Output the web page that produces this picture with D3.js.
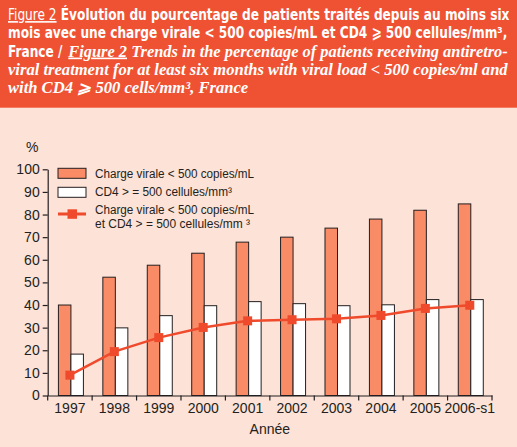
<!DOCTYPE html>
<html><head><meta charset="utf-8">
<script src="https://cdn.jsdelivr.net/npm/d3@7"></script>
<style>
html,body{margin:0;padding:0;background:#FDE2D7;}
svg{display:block;}
</style></head>
<body>
<svg id="chart" width="517" height="447"></svg>
<script>
// ---- data ----
const years = ["1997","1998","1999","2000","2001","2002","2003","2004","2005","2006-s1"];
const chargeVirale = [40, 52.3, 57.6, 62.9, 67.8, 70, 74, 78, 81.9, 84.7];
const cd4 = [18.3, 29.9, 35.3, 39.7, 41.5, 40.6, 39.7, 40.1, 42.4, 42.4];
const both = [9, 19.4, 25.6, 30.1, 33, 33.5, 33.9, 35.4, 38.5, 39.9];
const yTicks = [0,10,20,30,40,50,60,70,80,90,100];
const legendLabels = ["Charge virale < 500 copies/mL", "CD4 > = 500 cellules/mm³", "Charge virale < 500 copies/mL", "et CD4 > = 500 cellules/mm ³"];

const W = 517, H = 447;
const C = {header:"#EF5233", bg:"#FDE2D7", orange:"#F98B66", line:"#EF4A2C", stroke:"#231F20"};
const svg = d3.select("#chart");
svg.append("rect").attr("width",W).attr("height",H).attr("fill",C.bg);

// ---- header ----
svg.append("rect").attr("width",W).attr("height",107.7).attr("fill",C.header);
const SANS = "'DejaVu Sans', sans-serif";
const SERIF = "'Liberation Serif', 'DejaVu Serif', serif";
// each segment: start x, target end x (or reuse scale of a previous segment)
const segs = [
  {y:20, x0:8, x1:510, parts:[{t:"Figure 2", f:SANS, wgt:"normal", u:true},{t:" Évolution du pourcentage de patients traités depuis au moins six", f:SANS, wgt:"bold"}]},
  {y:38.3, x0:8, x1:508, id:"l2", parts:[{t:"mois avec une charge virale < 500 copies/mL et CD4 ⩾ 500 cellules/mm³,", f:SANS, wgt:"bold"}]},
  {y:56.6, x0:8, same:"l2", parts:[{t:"France /", f:SANS, wgt:"bold"}]},
  {y:56.6, x0:68.3, x1:508, parts:[{t:"Figure 2", f:SERIF, wgt:"bold", it:true, u:true},{t:" Trends in the percentage of patients receiving antiretro-", f:SERIF, wgt:"bold", it:true}]},
  {y:74.9, x0:8, x1:508, id:"l4", parts:[{t:"viral treatment for at least six months with viral load < 500 copies/ml and", f:SERIF, wgt:"bold", it:true}]},
  {y:93.2, x0:8, same:"l4", parts:[{t:"with CD4 ⩾ 500 cells/mm³, France", f:SERIF, wgt:"bold", it:true}]}
];
const scales = {};
segs.forEach(L => {
  const g = svg.append("g");
  const t = g.append("text").attr("x",0).attr("y",L.y).attr("fill","#fff").attr("font-size",16).style("white-space","pre");
  L.parts.forEach(p => {
    t.append("tspan").text(p.t)
      .attr("font-family",p.f).attr("font-weight",p.wgt)
      .attr("font-style",p.it?"italic":"normal")
      .attr("font-stretch", p.f===SANS ? "condensed":"normal")
      .attr("text-decoration",p.u?"underline":null);
  });
  const nat = t.node().getComputedTextLength();
  const s = L.same ? scales[L.same] : (L.x1 - L.x0)/nat;
  if (L.id) scales[L.id] = s;
  g.attr("transform",`translate(${L.x0},0) scale(${s},1)`);
});

// ---- scales ----
const x = d3.scaleBand().domain(years).range([47.7, 492]).padding(0);
const y = d3.scaleLinear().domain([0,100]).range([395.5, 169.3]);
const barW = 12.5;

// ---- bars ----
const plot = svg.append("g");
plot.selectAll("rect.cv").data(years).join("rect").attr("class","cv")
  .attr("x", (d)=> x(d) + x.bandwidth()/2 + 1 - barW)
  .attr("y", (d,i)=> y(chargeVirale[i]))
  .attr("width", barW).attr("height",(d,i)=> y(0)-y(chargeVirale[i]))
  .attr("fill",C.orange).attr("stroke",C.stroke).attr("stroke-width",1);
plot.selectAll("rect.cd").data(years).join("rect").attr("class","cd")
  .attr("x", (d)=> x(d) + x.bandwidth()/2 + 1)
  .attr("y", (d,i)=> y(cd4[i]))
  .attr("width", barW).attr("height",(d,i)=> y(0)-y(cd4[i]))
  .attr("fill","#fff").attr("stroke",C.stroke).attr("stroke-width",1);

// ---- line ----
const cx = d => x(d) + x.bandwidth()/2;
plot.append("path").datum(years)
  .attr("d", d3.line().x(d=>cx(d)).y((d,i)=>y(both[i])))
  .attr("fill","none").attr("stroke",C.line).attr("stroke-width",2.5);
plot.selectAll("rect.mk").data(years).join("rect").attr("class","mk")
  .attr("x", d=>cx(d)-4.5).attr("y",(d,i)=>y(both[i])-4.5)
  .attr("width",9).attr("height",9).attr("fill",C.line);

// ---- axes ----
const yAxis = svg.append("g").attr("transform",`translate(47.7,0)`)
  .call(d3.axisLeft(y).tickValues(yTicks).tickSize(5).tickPadding(3).tickSizeOuter(0));
yAxis.selectAll("text").attr("font-family","'Liberation Sans', Arial, sans-serif").attr("font-size",14).attr("fill","#231F20");
yAxis.selectAll("line,path").attr("stroke","#231F20").attr("stroke-width",1.2);

const xAxis = svg.append("g").attr("transform",`translate(0,${y(0)})`)
  .call(d3.axisBottom(x).tickSize(0).tickPadding(8).tickSizeOuter(0));
xAxis.selectAll("text").attr("font-family","'Liberation Sans', Arial, sans-serif").attr("font-size",14).attr("fill","#231F20");
xAxis.selectAll("path").attr("stroke","#231F20").attr("stroke-width",1.2);
const bounds = years.map(d=>x(d)).concat([x.range()[1]]);
xAxis.selectAll("line.bt").data(bounds).join("line").attr("class","bt")
  .attr("x1",d=>d).attr("x2",d=>d).attr("y1",0).attr("y2",5)
  .attr("stroke","#231F20").attr("stroke-width",1.2);

svg.append("text").attr("x",(x.range()[0]+x.range()[1])/2).attr("y",434)
  .attr("text-anchor","middle").attr("font-family","'Liberation Sans', Arial, sans-serif")
  .attr("font-size",14).attr("fill","#231F20").text("Année");
svg.append("text").attr("x",32.3).attr("y",152)
  .attr("text-anchor","middle").attr("font-family","'Liberation Sans', Arial, sans-serif")
  .attr("font-size",14).attr("fill","#231F20").text("%");

// ---- legend ----
const lg = svg.append("g");
lg.append("rect").attr("x",58).attr("y",168.3).attr("width",28).attr("height",10)
  .attr("fill",C.orange).attr("stroke",C.stroke).attr("stroke-width",1);
lg.append("rect").attr("x",58).attr("y",187.3).attr("width",28).attr("height",10)
  .attr("fill","#fff").attr("stroke",C.stroke).attr("stroke-width",1);
lg.append("line").attr("x1",58).attr("x2",86).attr("y1",214).attr("y2",214)
  .attr("stroke",C.line).attr("stroke-width",3);
lg.append("rect").attr("x",67.5).attr("y",209.3).attr("width",9.5).attr("height",9.5).attr("fill",C.line);
const lgY = [178, 196, 214.3, 227.5];
const lgW = [159, 137, 159, 155];
lg.selectAll("text").data(legendLabels).join("text")
  .attr("x",95).attr("y",(d,i)=>lgY[i])
  .attr("font-family","'Liberation Sans', Arial, sans-serif").attr("font-size",12)
  .attr("fill","#231F20")
  .attr("textLength",(d,i)=>lgW[i]).attr("lengthAdjust","spacingAndGlyphs")
  .text(d=>d);
</script>
</body></html>
